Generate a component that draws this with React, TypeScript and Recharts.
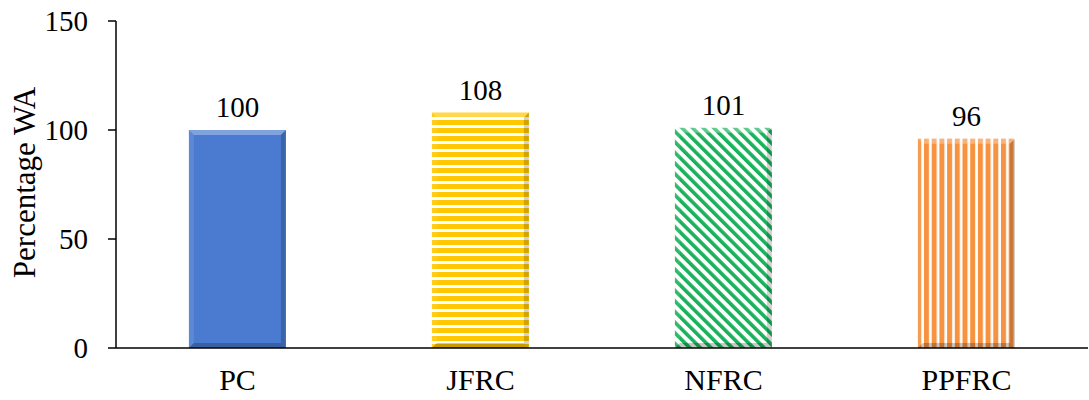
import React from 'react';
import { BarChart, Bar, XAxis, YAxis, Cell, LabelList } from 'recharts';

const categories = ['PC', 'JFRC', 'NFRC', 'PPFRC'];
const values = [100, 108, 101, 96];
const yTicks = [0, 50, 100, 150];

const fills = ['#4A7BD0', 'url(#hStripe)', 'url(#dStripe)', 'url(#vStripe)'];

const data = categories.map((name, i) => ({ name, value: values[i] }));

const font = 'Liberation Serif, Times New Roman, DejaVu Serif, serif';

const BevelBar = (props: any) => {
  const { x, y, width, height, fill } = props;
  if (!height || height <= 0) return null;
  const b = 5;
  const x2 = x + width;
  const y2 = y + height;
  return (
    <g>
      <rect x={x} y={y} width={width} height={height} fill={fill} />
      <polygon points={`${x},${y} ${x2},${y} ${x2 - b},${y + b} ${x + b},${y + b}`} fill="#fff" fillOpacity={0.3} />
      <polygon points={`${x},${y} ${x + b},${y + b} ${x + b},${y2 - b} ${x},${y2}`} fill="#fff" fillOpacity={0.1} />
      <polygon points={`${x2},${y} ${x2},${y2} ${x2 - b},${y2 - b} ${x2 - b},${y + b}`} fill="#000" fillOpacity={0.18} />
      <polygon points={`${x},${y2} ${x + b},${y2 - b} ${x2 - b},${y2 - b} ${x2},${y2}`} fill="#000" fillOpacity={0.22} />
    </g>
  );
};

const YLabel = (props: any) => {
  const { viewBox } = props;
  const cy = viewBox.y + viewBox.height / 2 - 2;
  return (
    <text
      x={35}
      y={cy}
      transform={`rotate(-90, 35, ${cy})`}
      textAnchor="middle"
      style={{ fontFamily: font, fontSize: 31 }}
      fill="#000"
    >
      Percentage WA
    </text>
  );
};

export default function App() {
  return (
    <div style={{ position: 'fixed', left: 0, top: 0, width: 1089, height: 400, background: '#fff', fontFamily: font }}>
      <BarChart
        width={1089}
        height={400}
        data={data}
        margin={{ top: 21, right: 1, bottom: 0, left: 0 }}
        barCategoryGap="30%"
        style={{ fontFamily: font }}
      >
        <defs>
          <pattern id="hStripe" width="8" height="8" patternUnits="userSpaceOnUse">
            <rect width="8" height="8" fill="#fff" />
            <rect y="0" width="8" height="5" fill="#FFC800" />
          </pattern>
          <pattern id="vStripe" width="7.7" height="8" patternUnits="userSpaceOnUse">
            <rect width="7.7" height="8" fill="#fff" />
            <rect x="0" width="5" height="8" fill="#F79240" />
          </pattern>
          <pattern
            id="dStripe"
            width="7.5"
            height="8"
            patternUnits="userSpaceOnUse"
            patternTransform="rotate(-45)"
          >
            <rect width="7.5" height="8" fill="#fff" />
            <rect x="0" width="3.6" height="8" fill="#19B25A" />
          </pattern>
        </defs>
        <XAxis
          dataKey="name"
          axisLine={{ stroke: '#000', strokeWidth: 1.5 }}
          tickLine={false}
          tickSize={0}
          tickMargin={21}
          height={52}
          tick={{ fill: '#000', fontSize: 30, fontFamily: font }}
        />
        <YAxis
          domain={[0, 150]}
          ticks={yTicks}
          width={116}
          axisLine={{ stroke: '#000', strokeWidth: 1.5 }}
          tickLine={{ stroke: '#000', strokeWidth: 1.5 }}
          tickSize={8}
          tickMargin={20}
          tick={{ fill: '#000', fontSize: 29, fontFamily: font }}
          label={<YLabel />}
        />
        <Bar dataKey="value" isAnimationActive={false} shape={<BevelBar />}>
          {data.map((d, i) => (
            <Cell key={d.name} fill={fills[i]} />
          ))}
          <LabelList
            dataKey="value"
            position="top"
            offset={13}
            fill="#000"
            fontSize={29}
            fontFamily={font}
          />
        </Bar>
      </BarChart>
    </div>
  );
}
